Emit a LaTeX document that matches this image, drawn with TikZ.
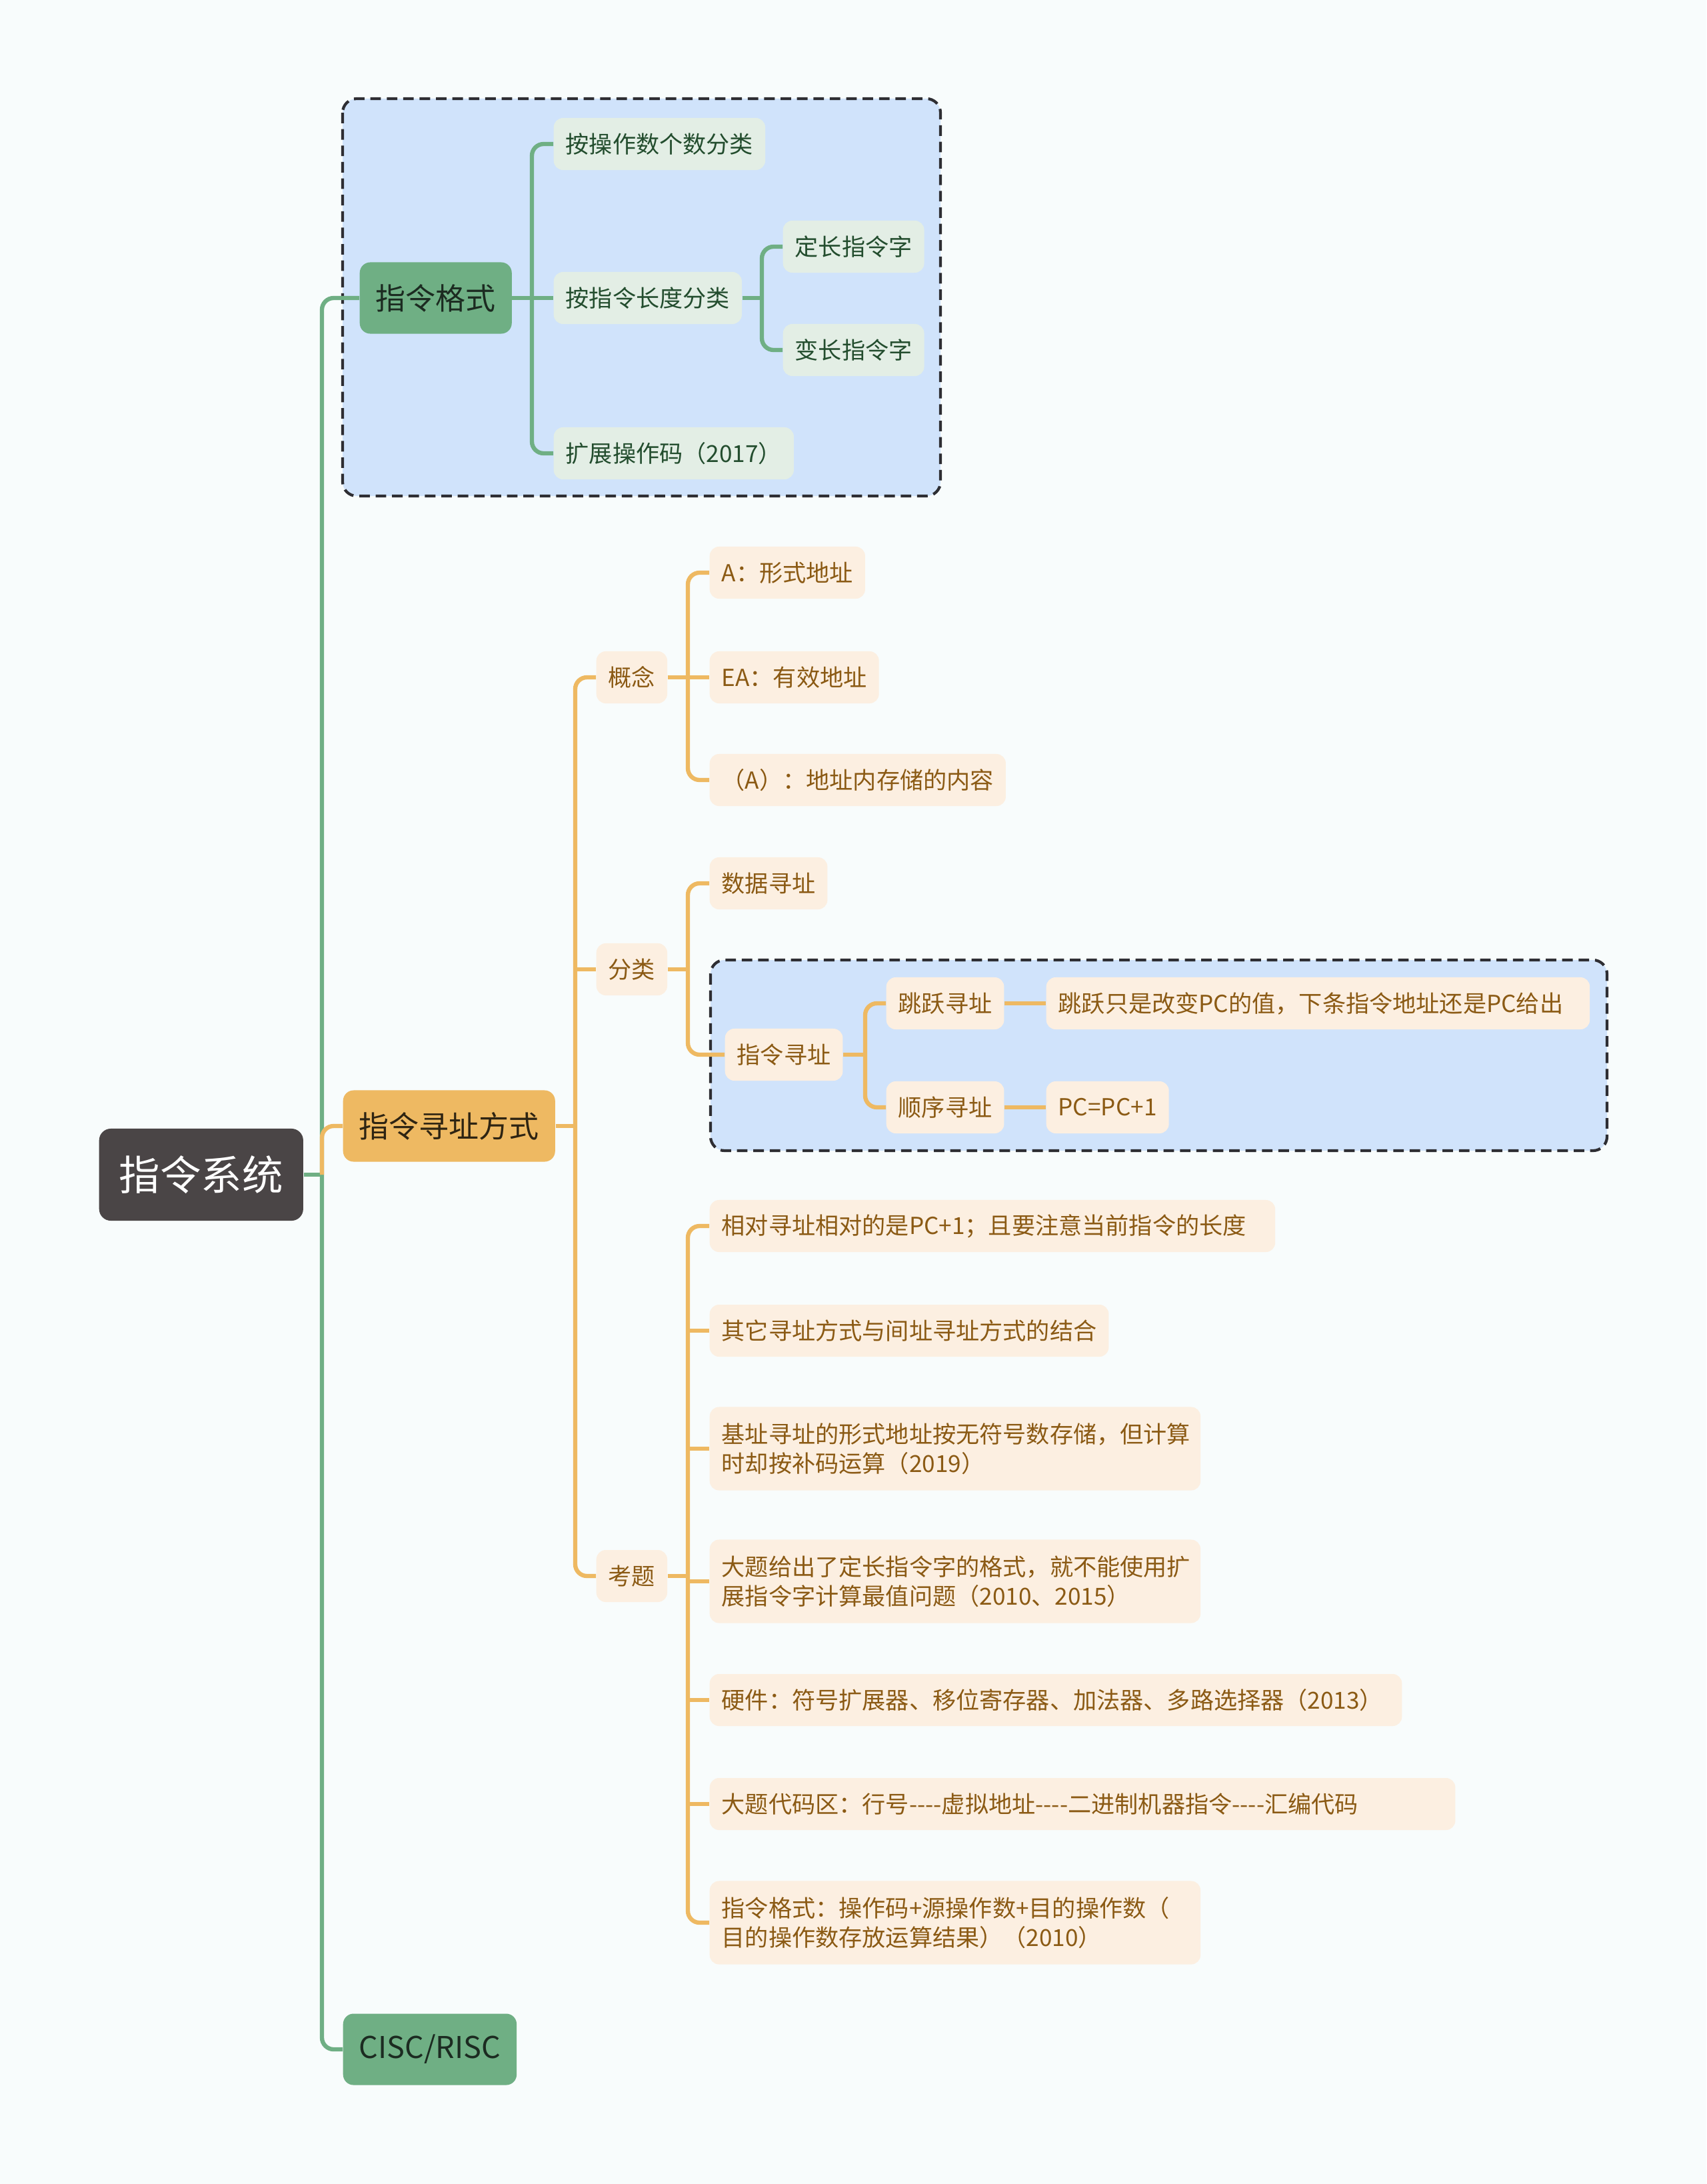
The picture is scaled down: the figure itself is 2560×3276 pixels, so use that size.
\documentclass[tikz,border=0pt]{standalone}
\usepackage{fontspec}
\newfontfamily\cnfont{Noto Sans CJK SC}
\usetikzlibrary{positioning,calc}

\definecolor{bgc}{HTML}{F8FCFC}
\definecolor{rootc}{HTML}{4A4546}
\definecolor{grn}{HTML}{6FAF84}
\definecolor{grnlt}{HTML}{E3EEE5}
\definecolor{gtxt}{HTML}{1C2B21}
\definecolor{gsubtxt}{HTML}{234D2E}
\definecolor{org}{HTML}{EEB962}
\definecolor{orglt}{HTML}{FCEFE1}
\definecolor{otxt}{HTML}{2E2412}
\definecolor{osubtxt}{HTML}{8B5A14}
\definecolor{grpfill}{HTML}{D0E3FB}
\definecolor{grpline}{HTML}{2E2E33}

\begin{document}
\begin{tikzpicture}[x=0.01cm, y=-0.01cm,
    root/.style={fill=rootc, text=white, rounded corners=5pt, minimum height=1.38cm, inner xsep=0.30cm, font=\cnfont\fontsize{17.5}{21}\selectfont, anchor=west},
    gtopic/.style={fill=grn, text=gtxt, rounded corners=4.5pt, minimum height=1.07cm, inner xsep=0.24cm, font=\cnfont\fontsize{12.8}{15}\selectfont, anchor=west},
    otopic/.style={gtopic, fill=org, text=otxt},
    gsub/.style={fill=grnlt, text=gsubtxt, rounded corners=4pt, minimum height=0.78cm, inner xsep=0.18cm, font=\cnfont\fontsize{10}{12.5}\selectfont, anchor=west},
    osub/.style={gsub, fill=orglt, text=osubtxt},
    twoline/.style={text width=7.0cm, align=left, minimum height=1.25cm},
    wide/.style={text width=#1, align=left},
    gconn/.style={draw=grn, line width=1.8pt, rounded corners=5pt},
    oconn/.style={gconn, draw=org},
    grp/.style={draw=grpline, fill=grpfill, line width=1.2pt, dash pattern=on 4.5pt off 2.5pt, rounded corners=6pt}
]
% --- page and group boxes ---
\fill[bgc] (0,0) rectangle (2560,3276);
\draw[grp] (514,148) rectangle (1411,744);
\draw[grp] (1066,1440) rectangle (2411,1726);

% --- root and main topics ---
\node[root]   (root) at (148,1762)  {指令系统};
\node[gtopic] (fmt)  at (539,447)   {指令格式};
\node[otopic] (addr) at (514,1689)  {指令寻址方式};
\node[gtopic] (cisc) at (514,3074)  {CISC/RISC};

% --- 指令格式 ---
\node[gsub] (fmt1) at (830,216)  {按操作数个数分类};
\node[gsub] (fmt2) at (830,447)  {按指令长度分类};
\node[gsub] (fmt3) at (830,680)  {扩展操作码（2017）};
\node[gsub] (len1) at (1174,370) {定长指令字};
\node[gsub] (len2) at (1174,525) {变长指令字};

% --- 指令寻址方式 ---
\node[osub] (con)  at (894,1016)  {概念};
\node[osub] (con1) at (1064,859)  {A：形式地址};
\node[osub] (con2) at (1064,1016) {EA：有效地址};
\node[osub] (con3) at (1064,1170) {（A）：地址内存储的内容};

\node[osub] (cls)  at (894,1454)  {分类};
\node[osub] (cls1) at (1064,1325) {数据寻址};
\node[osub] (cls2) at (1087,1582) {指令寻址};
\node[osub] (jmp)  at (1329,1505) {跳跃寻址};
\node[osub, wide=7.79cm] (jmpt) at (1569,1505) {跳跃只是改变PC的值，下条指令地址还是PC给出};
\node[osub] (seq)  at (1329,1661) {顺序寻址};
\node[osub] (seqt) at (1569,1661) {PC=PC+1};

\node[osub] (exam) at (894,2364)  {考题};
\node[osub, wide=8.12cm] (ex1) at (1064,1839) {相对寻址相对的是PC+1；且要注意当前指令的长度};
\node[osub] (ex2) at (1064,1996) {其它寻址方式与间址寻址方式的结合};
\node[osub, twoline] (ex3) at (1064,2173) {基址寻址的形式地址按无符号数存储，但计算\\时却按补码运算（2019）};
\node[osub, twoline] (ex4) at (1064,2372) {大题给出了定长指令字的格式，就不能使用扩\\展指令字计算最值问题（2010、2015）};
\node[osub, wide=10.02cm] (ex5) at (1064,2550) {硬件：符号扩展器、移位寄存器、加法器、多路选择器（2013）};
\node[osub, wide=10.82cm] (ex6) at (1064,2706) {大题代码区：行号----虚拟地址----二进制机器指令----汇编代码};
\node[osub, twoline] (ex7) at (1064,2884) {指令格式：操作码+源操作数+目的操作数（\\目的操作数存放运算结果）（2010）};

% === CONNECTIONS ===
% root trunk
\coordinate (hub) at ($(root.east -| addr.west)+(-31,0)$);
\draw[gconn] (root.east) -- (hub);
\draw[gconn] (fmt.west) -| (hub) |- (cisc.west);
\draw[oconn] (addr.west) -| (hub);

% 指令格式 branches
\coordinate (fhub) at ($(fmt.east -| fmt1.west)+(-32,0)$);
\draw[gconn] (fmt.east) -- (fmt2.west);
\draw[gconn] (fmt1.west) -| (fhub) |- (fmt3.west);
\coordinate (lhub) at ($(fmt2.east -| len1.west)+(-31,0)$);
\draw[gconn] (fmt2.east) -- (lhub);
\draw[gconn] (len1.west) -| (lhub) |- (len2.west);

% 指令寻址方式 branches
\coordinate (ahub) at ($(addr.east -| con.west)+(-31,0)$);
\draw[oconn] (addr.east) -- (ahub);
\draw[oconn] (con.west) -| (ahub) |- (exam.west);
\draw[oconn] (cls.west) -- (cls.west -| ahub);

% 概念
\coordinate (chub) at ($(con.east -| con1.west)+(-32,0)$);
\draw[oconn] (con.east) -- (con2.west);
\draw[oconn] (con1.west) -| (chub) |- (con3.west);

% 分类
\coordinate (khub) at ($(cls.east -| cls1.west)+(-32,0)$);
\draw[oconn] (cls.east) -- (khub);
\draw[oconn] (cls1.west) -| (khub) |- (cls2.west);

% 指令寻址
\coordinate (ihub) at ($(cls2.east -| jmp.west)+(-31,0)$);
\draw[oconn] (cls2.east) -- (ihub);
\draw[oconn] (jmp.west) -| (ihub) |- (seq.west);
\draw[oconn] (jmp) -- (jmpt);
\draw[oconn] (seq) -- (seqt);

% 考题
\coordinate (ehub) at ($(exam.east -| ex1.west)+(-32,0)$);
\draw[oconn] (exam.east) -- (ehub);
\draw[oconn] (ex1.west) -| (ehub) |- (ex7.west);
\foreach \i in {2,...,6}
  \draw[oconn] (ex\i.west) -- (ex\i.west -| ehub);
\end{tikzpicture}
\end{document}
